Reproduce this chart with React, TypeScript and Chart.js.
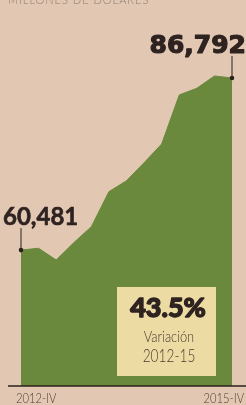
import React, { useEffect, useRef } from "react";
import { Chart, registerables } from "chart.js";

Chart.register(...registerables);

const quarters = [
  "2012-IV", "2013-I", "2013-II", "2013-III", "2013-IV",
  "2014-I", "2014-II", "2014-III", "2014-IV",
  "2015-I", "2015-II", "2015-III", "2015-IV",
];
const values = [60481, 60760, 58970, 61610, 64060, 69410, 71090, 73840, 76700, 84200, 85220, 87100, 86792];
const tickLabels = ["2012-IV", "2015-IV"];
const titleText = "MILLONES DE DÓLARES";
const firstLabel = "60,481";
const lastLabel = "86,792";
const boxLines = ["43.5%", "Variación", "2012-15"];

const BG = "#e2c8b2";
const GREEN = "#6a893d";
const BOX = "#ecdba3";
const DARK = "#2e2320";
const MID = "#4a3b34";

function condensed(ctx: any, text: string, x: number, y: number, sx: number, align: string) {
  ctx.save();
  ctx.translate(x, y);
  ctx.scale(sx, 1);
  ctx.textAlign = align;
  ctx.fillText(text, 0, 0);
  ctx.restore();
}

function heavy(ctx: any, text: string, x: number, y: number, w: number) {
  ctx.lineWidth = w;
  ctx.lineJoin = "round";
  ctx.strokeStyle = ctx.fillStyle;
  ctx.strokeText(text, x, y);
  ctx.fillText(text, x, y);
}

const annotPlugin = {
  id: "annot",
  afterDatasetsDraw(chart: any) {
    const { ctx, chartArea, scales } = chart;
    const xs = scales.x;
    const ys = scales.y;
    const n = values.length;
    const x0 = xs.getPixelForValue(0);
    const y0 = ys.getPixelForValue(values[0]);
    const x1 = xs.getPixelForValue(n - 1);
    const y1 = ys.getPixelForValue(values[n - 1]);
    ctx.save();
    ctx.textBaseline = "alphabetic";
    // title (cut off at top)
    ctx.fillStyle = "#8c7d73";
    ctx.font = "300 11px Lato";
    ctx.textAlign = "left";
    (ctx as any).letterSpacing = "1px";
    ctx.fillText(titleText, 8, 4);
    (ctx as any).letterSpacing = "0px";

    // baseline
    ctx.strokeStyle = "#2b211d";
    ctx.lineWidth = 1.3;
    ctx.beginPath();
    ctx.moveTo(8, chartArea.bottom);
    ctx.lineTo(246, chartArea.bottom);
    ctx.stroke();

    // leaders
    ctx.lineWidth = 1;
    ctx.beginPath();
    ctx.moveTo(x0, y0);
    ctx.lineTo(x0, y0 - 22);
    ctx.moveTo(x1, y1);
    ctx.lineTo(x1, y1 - 22);
    ctx.stroke();
    ctx.fillStyle = "#2b211d";
    ctx.beginPath();
    ctx.arc(x0, y0, 2.3, 0, Math.PI * 2);
    ctx.arc(x1, y1, 2.3, 0, Math.PI * 2);
    ctx.fill();

    // value labels
    ctx.fillStyle = DARK;
    ctx.font = "bold 24px Lato";
    ctx.textAlign = "left";
    heavy(ctx, firstLabel, x0 - 18, y0 - 25, 0.6);
    ctx.font = "bold 25px 'DejaVu Sans'";
    ctx.textAlign = "right";
    heavy(ctx, lastLabel, x1 + 14, y1 - 25, 1.2);

    // tick labels
    ctx.fillStyle = MID;
    ctx.font = "300 14px Lato";
    condensed(ctx, tickLabels[0], x0 - 5, chartArea.bottom + 17, 0.8, "left");
    condensed(ctx, tickLabels[1], x1 + 12, chartArea.bottom + 17, 0.8, "right");

    // box
    ctx.fillStyle = BOX;
    ctx.fillRect(117, 287, 99, 89);
    ctx.textAlign = "center";
    ctx.fillStyle = DARK;
    ctx.font = "900 27px Lato";
    heavy(ctx, boxLines[0], 168, 317, 1.3);
    ctx.fillStyle = MID;
    ctx.font = "300 16px Lato";
    condensed(ctx, boxLines[1], 169, 342, 0.8, "center");
    ctx.font = "300 18px Lato";
    condensed(ctx, boxLines[2], 169, 362, 0.76, "center");
    ctx.restore();
  },
};

export default function App() {
  const ref = useRef<HTMLCanvasElement | null>(null);
  useEffect(() => {
    if (!ref.current) return;
    const chart = new Chart(ref.current, {
      type: "line",
      data: {
        labels: quarters,
        datasets: [
          {
            data: values,
            fill: "start",
            backgroundColor: GREEN,
            borderColor: GREEN,
            borderWidth: 1,
            pointRadius: 0,
            tension: 0,
          },
        ],
      },
      options: {
        responsive: false,
        animation: false,
        layout: { padding: { left: 21, right: 14, top: 40, bottom: 19 } },
        plugins: { legend: { display: false }, tooltip: { enabled: false }, title: { display: false } },
        scales: {
          x: { display: false, offset: false },
          y: { display: false, min: 39700, max: 92600 },
        },
      },
      plugins: [annotPlugin],
    });
    return () => chart.destroy();
  }, []);
  return (
    <div style={{ position: "fixed", left: 0, top: 0, width: 246, height: 405, background: BG, overflow: "hidden" }}>
      <canvas ref={ref} width={246} height={405} style={{ display: "block", width: 246, height: 405 }} />
    </div>
  );
}
